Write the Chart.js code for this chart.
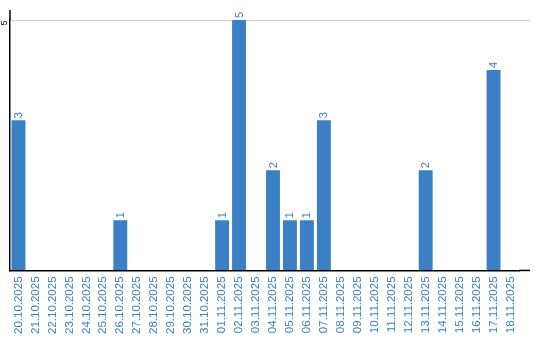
<!DOCTYPE html>
<html>
<head>
<meta charset="utf-8">
<script src="https://cdn.jsdelivr.net/npm/chart.js@4"></script>
<style>
  html, body { margin: 0; padding: 0; background: #fff; }
  #wrap { width: 540px; height: 340px; }
</style>
</head>
<body>
<div id="wrap"><canvas id="chart"></canvas></div>
<script>
// Data
const days = [
    '20.10.2025', '21.10.2025', '22.10.2025', '23.10.2025', '24.10.2025',
    '25.10.2025', '26.10.2025', '27.10.2025', '28.10.2025', '29.10.2025',
    '30.10.2025', '31.10.2025', '01.11.2025', '02.11.2025', '03.11.2025',
    '04.11.2025', '05.11.2025', '06.11.2025', '07.11.2025', '08.11.2025',
    '09.11.2025', '10.11.2025', '11.11.2025', '12.11.2025', '13.11.2025',
    '14.11.2025', '15.11.2025', '16.11.2025', '17.11.2025', '18.11.2025'
];
const counts = [3, 0, 0, 0, 0, 0, 1, 0, 0, 0, 0, 0, 1, 5, 0, 2, 1, 1, 3, 0, 0, 0, 0, 0, 2, 0, 0, 0, 4, 0];
const yMax = 5;
const yTicks = [5];

const blue = '#3b7fc4';
const fontFamily = "'Liberation Sans', Arial, sans-serif";

// rotated value labels above bars, rotated y tick, axis extensions
const extras = {
    id: 'extras',
    afterDatasetsDraw(chart) {
        const ctx = chart.ctx;
        const area = chart.chartArea;
        const y = chart.scales.y;
        const meta = chart.getDatasetMeta(0);

        ctx.save();
        // gridline + x axis line run on past the last category
        ctx.lineWidth = 1;
        yTicks.forEach(v => {
            const py = Math.round(y.getPixelForValue(v)) + 0.5;
            ctx.strokeStyle = '#cccccc';
            ctx.beginPath();
            ctx.moveTo(area.right, py);
            ctx.lineTo(530, py);
            ctx.stroke();
        });
        ctx.strokeStyle = '#000';
        ctx.lineWidth = 1.5;
        ctx.beginPath();
        ctx.moveTo(area.right, area.bottom);
        ctx.lineTo(530, area.bottom);
        ctx.stroke();
        // y axis line goes a bit above the top tick
        ctx.beginPath();
        ctx.moveTo(area.left, area.top);
        ctx.lineTo(area.left, 10);
        ctx.stroke();

        // value labels
        ctx.font = '11px ' + fontFamily;
        ctx.fillStyle = blue;
        ctx.textAlign = 'left';
        ctx.textBaseline = 'middle';
        meta.data.forEach((bar, i) => {
            if (!counts[i]) return;
            ctx.save();
            ctx.translate(bar.x + 0.5, bar.y - 2);
            ctx.rotate(-Math.PI / 2);
            ctx.fillText(String(counts[i]), 0, 0);
            ctx.restore();
        });

        // y tick labels
        ctx.font = '9px ' + fontFamily;
        ctx.fillStyle = '#000';
        ctx.textAlign = 'left';
        yTicks.forEach(v => {
            ctx.save();
            ctx.translate(4.5, y.getPixelForValue(v) + 5.5);
            ctx.rotate(-Math.PI / 2);
            ctx.fillText(String(v), 0, 0);
            ctx.restore();
        });
        ctx.restore();
    }
};

new Chart(document.getElementById('chart'), {
    type: 'bar',
    data: {
        labels: days,
        datasets: [{
            data: counts,
            backgroundColor: blue,
            borderWidth: 0,
            barPercentage: 0.82,
            categoryPercentage: 1
        }]
    },
    options: {
        responsive: true,
        maintainAspectRatio: false,
        animation: false,
        layout: {
            padding: { left: 10, right: 21, top: 20, bottom: 0 }
        },
        plugins: {
            legend: { display: false },
            tooltip: { enabled: false }
        },
        scales: {
            x: {
                grid: { display: false, drawTicks: false },
                border: { color: '#000', width: 1.5 },
                ticks: {
                    color: blue,
                    font: { family: fontFamily, size: 11.5 },
                    minRotation: 90,
                    maxRotation: 90,
                    autoSkip: false,
                    padding: 6
                }
            },
            y: {
                min: 0,
                max: yMax,
                grid: {
                    drawTicks: false,
                    color: ctx => yTicks.includes(ctx.tick.value) ? '#cccccc' : 'transparent'
                },
                border: { color: '#000', width: 1.5 },
                ticks: { display: false, stepSize: 1 }
            }
        }
    },
    plugins: [extras]
});
</script>
</body>
</html>
